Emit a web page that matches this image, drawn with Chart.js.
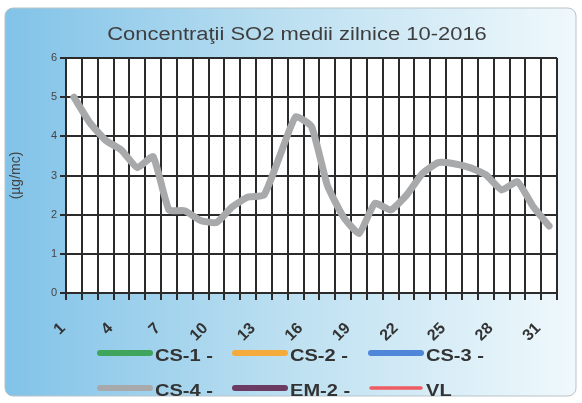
<!DOCTYPE html>
<html>
<head>
<meta charset="utf-8">
<script src="https://cdn.jsdelivr.net/npm/chart.js@4.4.0/dist/chart.umd.min.js"></script>
<style>
  html, body { margin: 0; padding: 0; background: #fff; }
  #wrap { width: 582px; height: 403px; }
</style>
</head>
<body>
<div id="wrap"><canvas id="so2Chart" width="582" height="403"></canvas></div>
<script>
// zilele lunii (octombrie 2016)
const zile = ['1', '2', '3', '4', '5', '6', '7', '8', '9', '10', '11', '12', '13', '14', '15', '16',
  '17', '18', '19', '20', '21', '22', '23', '24', '25', '26', '27', '28', '29', '30', '31'];
// etichete afisate pe axa X
const etichete = ['1', '4', '7', '10', '13', '16', '19', '22', '25', '28', '31'];
// valori pe axa Y
const valoriY = [0, 1, 2, 3, 4, 5, 6];

// concentratii medii zilnice (ug/mc) - doar CS-4 are date
const cs1 = [];
const cs2 = [];
const cs3 = [];
const cs4 = [5.0, 4.35, 3.9, 3.65, 3.2, 3.48, 2.12, 2.1, 1.85, 1.8, 2.2, 2.45, 2.5, 3.5, 4.5, 4.25,
  2.75, 1.95, 1.52, 2.29, 2.12, 2.5, 3.05, 3.33, 3.3, 3.2, 3.02, 2.63, 2.84, 2.2, 1.71];
const em2 = [];
const vl = [];

const FONT = '"Liberation Sans", Arial, sans-serif';
const GRILA = '#2b2b2b';

// text putin latit pe orizontala, ca in imaginea originala
function textLatit(ctx, txt, x, y, sx) {
  ctx.save();
  ctx.translate(x, y);
  ctx.scale(sx, 1);
  ctx.fillText(txt, 0, 0);
  ctx.restore();
}

// fundal albastru + zona alba a graficului, titlu si legenda
const fundalPlugin = {
  id: 'fundal',
  beforeDraw(chart) {
    const { ctx, chartArea: a } = chart;
    ctx.save();
    ctx.fillStyle = '#fff';
    ctx.fillRect(0, 0, chart.width, chart.height);
    const g = ctx.createLinearGradient(0, 0, chart.width, 0);
    g.addColorStop(0, '#80c2e8');
    g.addColorStop(0.5, '#bde0f1');
    g.addColorStop(1, '#f1f9fc');
    ctx.fillStyle = g;
    ctx.beginPath();
    ctx.roundRect(5, 8, 571, 388, 8);
    ctx.fill();
    ctx.strokeStyle = '#b9c3c8';
    ctx.lineWidth = 1;
    ctx.stroke();
    ctx.fillStyle = '#fff';
    ctx.fillRect(a.left, a.top, a.right - a.left, a.bottom - a.top);
    ctx.restore();
  },
  afterDraw(chart) {
    const ctx = chart.ctx;
    ctx.save();
    // titlu
    ctx.fillStyle = '#3e3e3e';
    ctx.font = '18px ' + FONT;
    ctx.textAlign = 'center';
    ctx.textBaseline = 'middle';
    textLatit(ctx, 'Concentraţii SO2 medii zilnice 10-2016', 297, 35, 1.22);
    // legenda pe 3 coloane
    const col = [97, 232, 368];
    const rand = [353, 388];
    ctx.textAlign = 'left';
    ctx.font = 'bold 17px ' + FONT;
    chart.data.datasets.forEach((ds, i) => {
      const x = col[i % 3], y = rand[Math.floor(i / 3)];
      ctx.strokeStyle = ds.borderColor;
      ctx.lineWidth = ds.label === 'VL' ? 3.5 : 6;
      ctx.lineCap = 'round';
      ctx.beginPath();
      ctx.moveTo(x + 3, y);
      ctx.lineTo(x + 53, y);
      ctx.stroke();
      ctx.fillStyle = '#333';
      textLatit(ctx, ds.label, x + 58, y + 3, 1.18);
    });
    ctx.restore();
  }
};

const ctx = document.getElementById('so2Chart').getContext('2d');
new Chart(ctx, {
  type: 'line',
  data: {
    labels: zile,
    datasets: [
      { label: 'CS-1 -', data: cs1, borderColor: '#3fa55c' },
      { label: 'CS-2 -', data: cs2, borderColor: '#f5aa3c' },
      { label: 'CS-3 -', data: cs3, borderColor: '#4f86d9' },
      { label: 'CS-4 -', data: cs4, borderColor: '#a8a9ab', borderWidth: 7, tension: 0.15,
        borderJoinStyle: 'round', borderCapStyle: 'round', pointRadius: 0 },
      { label: 'EM-2 -', data: em2, borderColor: '#6c3b64' },
      { label: 'VL', data: vl, borderColor: '#ee5b60' }
    ]
  },
  options: {
    responsive: false,
    animation: false,
    devicePixelRatio: 1,
    layout: { padding: { top: 58, right: 19, left: 0, bottom: 0 } },
    plugins: {
      legend: { display: false },
      title: { display: false },
      tooltip: { enabled: false }
    },
    scales: {
      x: {
        offset: true,
        grid: { offset: true, color: GRILA, lineWidth: 2, tickLength: 7 },
        border: { color: GRILA, width: 2 },
        ticks: {
          autoSkip: false, minRotation: 45, maxRotation: 45, padding: 19, labelOffset: -11,
          color: '#333', font: { family: FONT, size: 16, weight: 'bold' },
          callback: function(v) {
            const l = this.getLabelForValue(v);
            return etichete.includes(l) ? l : '';
          }
        },
        afterFit: s => { s.height = 110; }
      },
      y: {
        min: valoriY[0],
        max: valoriY[valoriY.length - 1],
        afterBuildTicks: s => { s.ticks = valoriY.map(v => ({ value: v })); },
        grid: { color: GRILA, lineWidth: 2, tickLength: 6 },
        border: { color: GRILA, width: 2 },
        ticks: { color: '#444', padding: 3, font: { family: FONT, size: 11 } },
        title: { display: true, text: '(µg/mc)', color: '#444', font: { family: FONT, size: 14 },
          padding: { top: 8, bottom: 0 } },
        afterFit: s => { s.width = 66; }
      }
    }
  },
  plugins: [fundalPlugin]
});
</script>
</body>
</html>
